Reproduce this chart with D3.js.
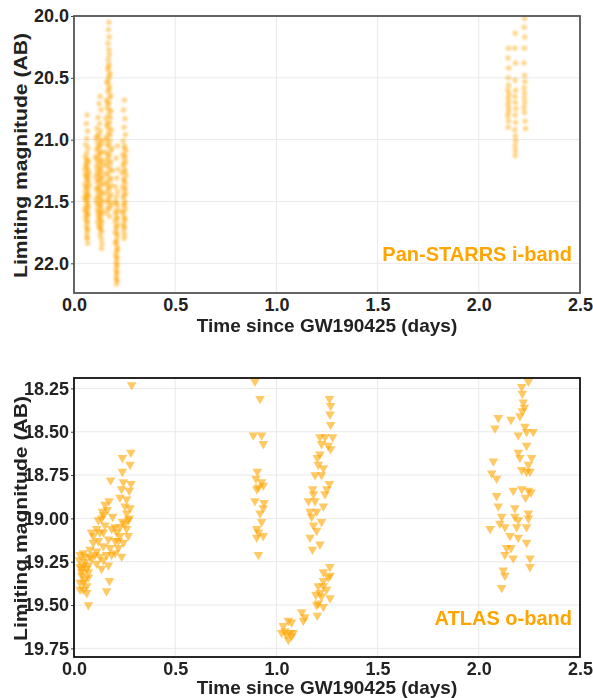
<html lang="en">
<head>
<script src="https://cdn.jsdelivr.net/npm/d3@7"></script>
<style>
body{margin:0;background:white;}
svg text{font-family:"Liberation Sans",Arial,sans-serif;font-weight:bold;}
</style>
</head>
<body>
<div id="chart"></div>
<script>
// Pan-STARRS i-band limits, one list per visit streak: [days, mag]
const psA=[[0.064,20.80],[0.061,20.87],[0.067,20.93],[0.063,20.99],[0.058,21.04],[0.069,21.07],[0.062,21.11],[0.056,21.14],[0.066,21.16],[0.072,21.18],[0.059,21.21],[0.053,21.24],[0.068,21.25],[0.074,21.27],[0.057,21.29],[0.063,21.31],[0.070,21.34],[0.054,21.36],[0.077,21.37],[0.061,21.39],[0.056,21.42],[0.067,21.44],[0.073,21.46],[0.051,21.47],[0.059,21.49],[0.065,21.51],[0.057,21.54],[0.071,21.55],[0.054,21.57],[0.063,21.59],[0.069,21.61],[0.060,21.64],[0.066,21.67],[0.062,21.70],[0.067,21.73],[0.064,21.76],[0.066,21.80],[0.068,21.84],[0.060,21.20],[0.064,21.45],[0.058,21.62],[0.070,21.30]]
const psA2=[[0.062,21.17],[0.066,21.23],[0.059,21.28],[0.065,21.33],[0.061,21.38],[0.068,21.41],[0.058,21.46],[0.064,21.49],[0.069,21.53],[0.060,21.57],[0.066,21.60],[0.062,21.66],[0.065,21.72],[0.063,21.79]]
const psB=[[0.129,20.65],[0.124,20.71],[0.134,20.76],[0.119,20.82],[0.127,20.87],[0.113,20.91],[0.131,20.93],[0.121,20.96],[0.108,20.99],[0.140,21.01],[0.117,21.03],[0.126,21.05],[0.112,21.08],[0.135,21.10],[0.122,21.12],[0.106,21.14],[0.130,21.16],[0.116,21.18],[0.143,21.20],[0.110,21.22],[0.125,21.24],[0.138,21.26],[0.119,21.28],[0.107,21.30],[0.131,21.32],[0.114,21.34],[0.145,21.36],[0.123,21.38],[0.111,21.40],[0.136,21.42],[0.118,21.44],[0.128,21.46],[0.109,21.48],[0.141,21.50],[0.120,21.52],[0.133,21.54],[0.115,21.56],[0.126,21.58],[0.139,21.60],[0.121,21.62],[0.130,21.65],[0.117,21.67],[0.134,21.69],[0.124,21.71],[0.137,21.74],[0.129,21.77],[0.135,21.80],[0.138,21.84],[0.136,21.88]]
const psB2=[[0.115,20.97],[0.128,21.00],[0.134,21.04],[0.120,21.07],[0.129,21.11],[0.113,21.15],[0.137,21.17],[0.124,21.20],[0.132,21.23],[0.115,21.26],[0.128,21.29],[0.140,21.31],[0.121,21.33],[0.133,21.36],[0.116,21.39],[0.127,21.41],[0.142,21.44],[0.122,21.47],[0.135,21.49],[0.113,21.51],[0.128,21.53],[0.140,21.57],[0.119,21.59],[0.131,21.61],[0.125,21.64],[0.138,21.66],[0.127,21.70],[0.132,21.73]]
const psC=[[0.172,20.05],[0.170,20.11],[0.174,20.17],[0.168,20.22],[0.172,20.27],[0.175,20.31],[0.169,20.35],[0.173,20.39],[0.166,20.43],[0.177,20.46],[0.171,20.50],[0.163,20.54],[0.175,20.57],[0.168,20.61],[0.180,20.64],[0.160,20.68],[0.172,20.71],[0.164,20.74],[0.183,20.77],[0.169,20.80],[0.157,20.83],[0.176,20.86],[0.162,20.89],[0.185,20.92],[0.170,20.95],[0.158,20.98],[0.178,21.01],[0.166,21.04],[0.188,21.07],[0.155,21.10],[0.173,21.13],[0.161,21.16],[0.181,21.19],[0.168,21.22],[0.190,21.25],[0.157,21.28],[0.175,21.31],[0.164,21.34],[0.184,21.37],[0.170,21.40],[0.159,21.43],[0.178,21.46],[0.166,21.50],[0.186,21.53],[0.172,21.56],[0.162,21.59],[0.176,21.62]]
const psC2=[[0.171,20.41],[0.176,20.48],[0.167,20.53],[0.173,20.59],[0.178,20.66],[0.166,20.70],[0.174,20.76],[0.180,20.82],[0.165,20.87],[0.172,20.91],[0.179,20.96],[0.163,21.00],[0.170,21.05],[0.182,21.09],[0.167,21.12],[0.175,21.17],[0.160,21.20],[0.179,21.24],[0.169,21.27],[0.183,21.32],[0.163,21.36],[0.173,21.39],[0.180,21.44],[0.168,21.48],[0.176,21.51],[0.170,21.55]]
const psD=[[0.214,21.05],[0.208,21.15],[0.218,21.24],[0.211,21.31],[0.205,21.38],[0.216,21.42],[0.209,21.46],[0.203,21.50],[0.213,21.53],[0.219,21.57],[0.207,21.60],[0.212,21.63],[0.202,21.66],[0.216,21.69],[0.209,21.72],[0.204,21.75],[0.214,21.78],[0.210,21.81],[0.206,21.84],[0.215,21.87],[0.211,21.90],[0.207,21.93],[0.213,21.96],[0.209,21.99],[0.212,22.02],[0.208,22.05],[0.211,22.08],[0.209,22.11],[0.212,22.14],[0.210,22.17]]
const psD2=[[0.210,21.51],[0.206,21.58],[0.213,21.64],[0.208,21.70],[0.211,21.76],[0.207,21.83],[0.213,21.89],[0.209,21.95],[0.210,22.01],[0.211,22.07],[0.210,22.13]]
const psE=[[0.249,20.68],[0.245,20.76],[0.252,20.83],[0.247,20.90],[0.254,20.96],[0.243,21.01],[0.250,21.05],[0.257,21.09],[0.241,21.12],[0.248,21.15],[0.255,21.18],[0.244,21.21],[0.251,21.24],[0.238,21.27],[0.258,21.29],[0.246,21.32],[0.253,21.35],[0.240,21.38],[0.249,21.41],[0.256,21.44],[0.243,21.47],[0.251,21.50],[0.245,21.53],[0.254,21.56],[0.240,21.59],[0.248,21.62],[0.252,21.65],[0.244,21.68],[0.249,21.71],[0.246,21.74],[0.250,21.77],[0.247,21.80]]
const psE2=[[0.248,21.07],[0.252,21.13],[0.245,21.19],[0.250,21.26],[0.247,21.33],[0.253,21.39],[0.246,21.45],[0.250,21.52],[0.244,21.58],[0.249,21.64],[0.247,21.70]]
const psR1=[[2.146,20.26],[2.144,20.34],[2.148,20.42],[2.145,20.50],[2.147,20.56],[2.143,20.60],[2.149,20.63],[2.145,20.66],[2.147,20.69],[2.144,20.72],[2.148,20.75],[2.146,20.78],[2.143,20.81],[2.147,20.85],[2.145,20.90]]
const psR2=[[2.180,20.14],[2.178,20.26],[2.181,20.38],[2.179,20.52],[2.182,20.60],[2.178,20.65],[2.180,20.70],[2.183,20.75],[2.179,20.80],[2.181,20.86],[2.178,20.92],[2.180,20.97],[2.182,21.01],[2.179,21.05],[2.181,21.09],[2.180,21.13]]
const psR3=[[2.226,20.02],[2.224,20.09],[2.227,20.17],[2.225,20.26],[2.223,20.38],[2.226,20.48],[2.228,20.53],[2.224,20.58],[2.226,20.62],[2.225,20.66],[2.227,20.70],[2.223,20.74],[2.226,20.78],[2.229,20.85],[2.231,20.91]]

// ATLAS o-band limits [days, mag]
const atlasNight1=[[0.285,18.23],[0.281,18.62],[0.239,18.65],[0.277,18.69],[0.239,18.73],[0.181,18.78],[0.244,18.79],[0.281,18.80],[0.235,18.83],[0.273,18.84],[0.227,18.88],[0.260,18.89],[0.173,18.90],[0.252,18.93],[0.153,18.92],[0.277,18.94],[0.141,18.96],[0.260,18.97],[0.191,18.99],[0.273,19.00],[0.120,19.01],[0.240,19.02],[0.112,19.06],[0.203,19.05],[0.260,19.06],[0.087,19.08],[0.145,19.08],[0.227,19.10],[0.268,19.10],[0.170,19.12],[0.120,19.13],[0.203,19.13],[0.095,19.14],[0.244,19.14],[0.145,19.16],[0.178,19.17],[0.219,19.17],[0.079,19.18],[0.112,19.19],[0.203,19.20],[0.046,19.20],[0.161,19.21],[0.235,19.22],[0.128,19.22],[0.087,19.23],[0.030,19.21],[0.054,19.25],[0.112,19.26],[0.170,19.27],[0.030,19.28],[0.063,19.29],[0.136,19.29],[0.038,19.33],[0.071,19.34],[0.046,19.37],[0.175,19.36],[0.030,19.41],[0.063,19.43],[0.161,19.42],[0.071,19.50],[0.026,19.24],[0.046,19.27],[0.071,19.31],[0.038,19.31],[0.054,19.35],[0.030,19.37],[0.063,19.39],[0.046,19.41],[0.038,19.29],[0.071,19.27],[0.079,19.22],[0.054,19.22],[0.095,19.10],[0.128,19.08],[0.153,19.04],[0.136,19.00],[0.164,18.95],[0.145,18.98],[0.186,19.06],[0.211,19.08],[0.219,19.13],[0.186,19.21],[0.145,19.24],[0.104,19.21],[0.227,19.05],[0.252,19.03],[0.268,19.01]]
const atlasNight2=[[0.894,18.21],[0.919,18.31],[0.886,18.52],[0.927,18.52],[0.935,18.57],[0.906,18.73],[0.899,18.77],[0.927,18.79],[0.911,18.82],[0.935,18.81],[0.903,18.83],[0.894,18.90],[0.939,18.91],[0.935,18.94],[0.919,18.97],[0.927,19.02],[0.903,19.06],[0.911,19.08],[0.935,19.10],[0.903,19.11],[0.911,19.21],
  [1.262,18.31],[1.268,18.35],[1.265,18.40],[1.268,18.46],[1.215,18.53],[1.240,18.53],[1.278,18.53],[1.223,18.57],[1.256,18.58],[1.268,18.60],[1.215,18.63],[1.202,18.65],[1.207,18.69],[1.232,18.71],[1.191,18.75],[1.223,18.75],[1.262,18.80],[1.249,18.83],[1.179,18.83],[1.183,18.86],[1.158,18.90],[1.191,18.90],[1.240,18.86],[1.232,18.93],[1.166,18.96],[1.199,18.96],[1.174,18.99],[1.223,19.02],[1.183,19.04],[1.199,19.07],[1.166,19.11],[1.215,19.15],[1.178,19.18],
  [1.264,19.28],[1.265,19.33],[1.232,19.31],[1.256,19.34],[1.232,19.36],[1.207,19.39],[1.232,19.39],[1.248,19.41],[1.215,19.43],[1.195,19.44],[1.223,19.45],[1.265,19.46],[1.207,19.49],[1.199,19.50],[1.232,19.51],[1.202,19.56],
  [1.125,19.54],[1.141,19.57],[1.133,19.59],[1.034,19.62],[1.059,19.59],[1.042,19.65],[1.066,19.66],[1.050,19.67],[1.075,19.68],[1.026,19.66],[1.059,19.70],[1.083,19.66],[1.075,19.60]]
const atlasNight3=[[2.245,18.21],[2.212,18.24],[2.215,18.28],[2.220,18.33],[2.225,18.36],[2.215,18.38],[2.203,18.41],[2.096,18.42],[2.159,18.43],[2.080,18.48],[2.228,18.47],[2.269,18.50],[2.236,18.50],[2.195,18.52],[2.236,18.58],[2.195,18.62],[2.203,18.65],[2.261,18.65],[2.245,18.69],[2.212,18.72],[2.236,18.73],[2.253,18.73],[2.072,18.67],[2.064,18.74],[2.088,18.77],[2.170,18.84],[2.212,18.83],[2.245,18.84],[2.258,18.85],[2.088,18.87],[2.231,18.88],[2.096,18.93],[2.178,18.94],[2.245,18.97],[2.113,18.99],[2.178,18.99],[2.195,19.01],[2.245,19.00],[2.104,19.03],[2.187,19.05],[2.236,19.05],[2.056,19.06],[2.129,19.05],[2.154,19.10],[2.195,19.11],[2.236,19.14],[2.137,19.17],[2.159,19.17],[2.129,19.21],[2.170,19.23],[2.253,19.23],[2.253,19.28],[2.121,19.30],[2.129,19.33],[2.113,19.40]]

const xTicks=[0,0.5,1,1.5,2,2.5]
const psTicks=[20.0,20.5,21.0,21.5,22.0]
const atlasTicks=[18.25,18.5,18.75,19.0,19.25,19.5,19.75]

const W=593,H=698
const orange="#FFA500"
const svg=d3.select("#chart").append("svg").attr("width",W).attr("height",H)
svg.append("defs").append("filter").attr("id","soft").append("feGaussianBlur").attr("stdDeviation",0.9)

function panel(cfg){
const x=d3.scaleLinear().domain([0,2.5]).range([74,580])
const y=d3.scaleLinear().domain(cfg.yDomain).range([cfg.top,cfg.bottom])
const g=svg.append("g")
const clipId="clip"+cfg.id
g.append("clipPath").attr("id",clipId).append("rect").attr("x",74).attr("y",cfg.top).attr("width",506).attr("height",cfg.bottom-cfg.top)
// grid
g.append("g").selectAll("line").data(xTicks.slice(1,-1)).enter().append("line")
 .attr("x1",d=>x(d)).attr("x2",d=>x(d)).attr("y1",cfg.top).attr("y2",cfg.bottom).style("stroke","#e9e9e9").style("stroke-width",1)
g.append("g").selectAll("line").data(cfg.yTicks).enter().append("line")
 .attr("x1",74).attr("x2",580).attr("y1",d=>y(d)).attr("y2",d=>y(d)).style("stroke","#e9e9e9").style("stroke-width",1)
// points
const pts=g.append("g").attr("clip-path","url(#"+clipId+")")
cfg.draw(pts,x,y)
// axes
const ya=g.append("g").attr("transform","translate(74,0)").call(d3.axisLeft(y).tickValues(cfg.yTicks).tickFormat(cfg.fmt).tickSize(3).tickPadding(2))
const xa=g.append("g").attr("transform","translate(0,"+cfg.bottom+")").call(d3.axisBottom(x).tickValues(xTicks).tickFormat(d3.format(".1f")).tickSize(0).tickPadding(5))
;[ya,xa].forEach(a=>{a.select(".domain").remove();a.selectAll("text").style("font-size","18px").style("fill","#222");a.selectAll("line").style("stroke","#444")})
g.append("rect").attr("x",74).attr("y",cfg.top).attr("width",506).attr("height",cfg.bottom-cfg.top)
 .style("fill","none").style("stroke",cfg.frame).style("stroke-width",1.8)
g.append("text").attr("x",327).attr("y",cfg.bottom+cfg.titleGap).attr("text-anchor","middle").style("font-size","19px").style("fill","#222").text("Time since GW190425 (days)")
g.append("text").attr("transform","translate(27,"+((cfg.top+cfg.bottom)/2+1)+") rotate(-90)").attr("text-anchor","middle")
 .attr("textLength",245).attr("lengthAdjust","spacingAndGlyphs").style("font-size","18px").style("fill","#222").text("Limiting magnitude (AB)")
g.append("text").attr("x",572).attr("y",cfg.labelY).attr("text-anchor","end").style("font-size","20px").style("fill",orange).text(cfg.label)
}

panel({id:"ps",top:16,bottom:293,yDomain:[20.0,22.24],yTicks:psTicks,fmt:d3.format(".1f"),frame:"#555",label:"Pan-STARRS i-band",labelY:261,titleGap:39,
 draw:(g,x,y)=>{
  const all=[].concat(psA,psA2,psB,psB2,psC,psC2,psD,psD2,psE,psE2,psR1,psR2,psR3)
  g.append("g").attr("filter","url(#soft)").selectAll("circle").data(all).enter().append("circle").attr("cx",d=>x(d[0])).attr("cy",d=>y(d[1])).attr("r",2.7)
   .style("fill",orange).style("opacity",0.45)
 }})

panel({id:"at",top:378,bottom:657,yDomain:[18.19,19.80],yTicks:atlasTicks,fmt:d3.format(".2f"),frame:"#111",label:"ATLAS o-band",labelY:625,titleGap:37,
 draw:(g,x,y)=>{
  const all=[].concat(atlasNight1,atlasNight2,atlasNight3)
  const tri=d3.symbol().type(d3.symbolTriangle).size(40)
  g.selectAll("path").data(all).enter().append("path").attr("d",tri)
   .attr("transform",d=>"translate("+x(d[0])+","+y(d[1])+") rotate(180)")
   .style("fill",orange).style("opacity",0.6)
 }})
</script>
</body>
</html>
